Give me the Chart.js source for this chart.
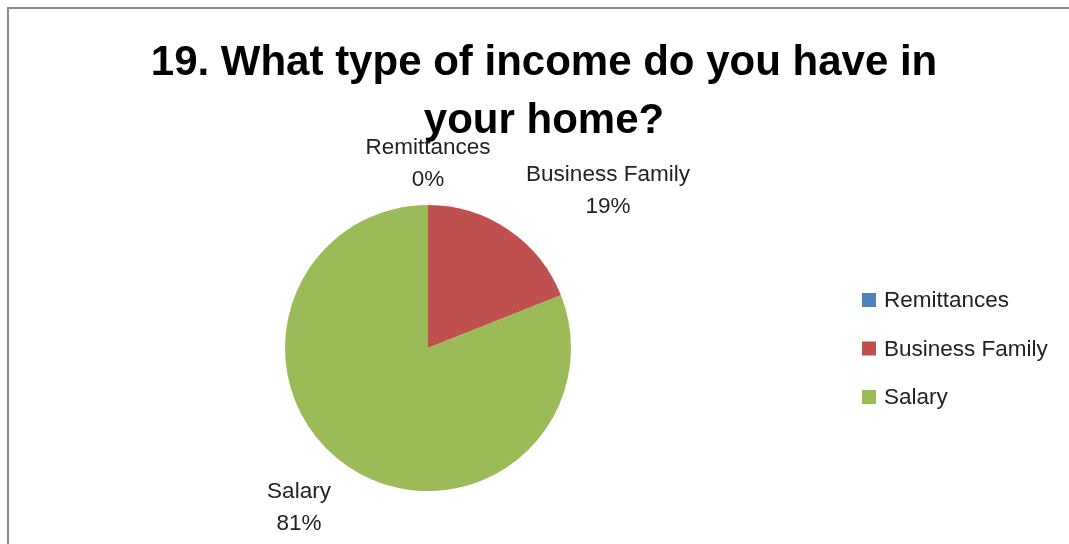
<!DOCTYPE html>
<html>
<head>
<meta charset="utf-8">
<style>
html,body{margin:0;padding:0;background:#fff;overflow:hidden;}
#wrap{width:1069px;height:544px;position:relative;}
</style>
<script src="https://cdn.jsdelivr.net/npm/chart.js@4"></script>
</head>
<body>
<div id="wrap"><canvas id="c" width="1069" height="544"></canvas></div>
<script>
const titleLines = ["19. What type of income do you have in", "your home?"];
const categories = ["Remittances", "Business Family", "Salary"];
const values = [0, 19, 81];
const percentLabels = ["0%", "19%", "81%"];
const colors = ["#4F81BD", "#C0504D", "#9BBB59"];

const FONT = "'Liberation Sans', Arial, sans-serif";

const textPlugin = {
  id: 'textPlugin',
  beforeDraw(chart) {
    const ctx = chart.ctx;
    ctx.save();
    ctx.fillStyle = '#fff';
    ctx.fillRect(0, 0, chart.width, chart.height);
    ctx.strokeStyle = '#8a8a8a';
    ctx.lineWidth = 2;
    ctx.strokeRect(8, 8, chart.width + 20, chart.height + 20);
    ctx.restore();
  },
  afterDraw(chart) {
    const ctx = chart.ctx;
    ctx.save();
    // title
    ctx.fillStyle = '#000';
    ctx.font = "bold 42px " + FONT;
    ctx.textAlign = 'center';
    ctx.textBaseline = 'middle';
    ctx.fillText(titleLines[0], 544, 63);
    ctx.fillText(titleLines[1], 544, 121);
    // data labels
    const lblPos = [[428, 148], [608, 175], [299, 492]];
    ctx.font = "22.5px " + FONT;
    ctx.fillStyle = '#222';
    categories.forEach((c, i) => {
      ctx.fillText(c, lblPos[i][0], lblPos[i][1]);
      ctx.fillText(percentLabels[i], lblPos[i][0], lblPos[i][1] + 32);
    });
    // legend
    ctx.textAlign = 'left';
    categories.forEach((c, i) => {
      const y = 300 + i * 48.5;
      ctx.fillStyle = colors[i];
      ctx.fillRect(862, y - 7, 14, 14);
      ctx.fillStyle = '#222';
      ctx.fillText(c, 884, y + 1);
    });
    ctx.restore();
  }
};

new Chart(document.getElementById('c'), {
  type: 'pie',
  data: {
    labels: categories,
    datasets: [{
      data: values,
      backgroundColor: colors,
      borderWidth: 0
    }]
  },
  options: {
    responsive: false,
    animation: false,
    layout: { padding: { left: 285, right: 498, top: 205, bottom: 53 } },
    plugins: { legend: { display: false }, title: { display: false }, tooltip: { enabled: false } }
  },
  plugins: [textPlugin]
});
</script>
</body>
</html>
